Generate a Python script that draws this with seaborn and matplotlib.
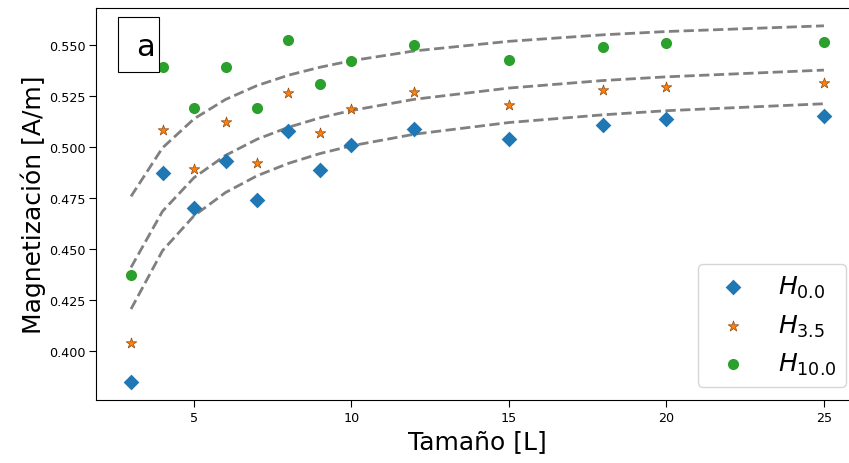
import matplotlib
matplotlib.use("Agg")
import matplotlib.pyplot as plt
from matplotlib.patches import Rectangle
import seaborn as sns

# ---- data ----
sizes_L = [3, 4, 5, 6, 7, 8, 9, 10, 12, 15, 18, 20, 25]

m_h00 = [0.3849, 0.4875, 0.4701, 0.4933, 0.4741, 0.5078, 0.4888, 0.5010,
         0.5086, 0.5039, 0.5109, 0.5135, 0.5150]
m_h35 = [0.4039, 0.5083, 0.4891, 0.5121, 0.4920, 0.5263, 0.5067, 0.5188,
         0.5268, 0.5206, 0.5279, 0.5295, 0.5314]
m_h100 = [0.4374, 0.5390, 0.5190, 0.5390, 0.5190, 0.5523, 0.5307, 0.5422,
          0.5500, 0.5425, 0.5489, 0.5508, 0.5513]

fit_h00 = [0.4206, 0.4492, 0.4663, 0.4777, 0.4859, 0.4920, 0.4968, 0.5006,
           0.5063, 0.5120, 0.5158, 0.5178, 0.5212]
fit_h35 = [0.4410, 0.4685, 0.4850, 0.4959, 0.5038, 0.5097, 0.5143, 0.5179,
           0.5234, 0.5289, 0.5326, 0.5344, 0.5377]
fit_h100 = [0.4758, 0.4996, 0.5138, 0.5233, 0.5301, 0.5352, 0.5391, 0.5423,
            0.5471, 0.5518, 0.5550, 0.5566, 0.5594]

labels = [r"$H_{0.0}$", r"$H_{3.5}$", r"$H_{10.0}$"]
colors = ["#1f77b4", "#ff7f0e", "#2ca02c"]
markers = ["D", "*", "o"]
x_ticks = [5, 10, 15, 20, 25]
y_ticks = [0.400, 0.425, 0.450, 0.475, 0.500, 0.525, 0.550]
y_tick_labels = ["0.400", "0.425", "0.450", "0.475", "0.500", "0.525", "0.550"]

fig = plt.figure(figsize=(8.49, 4.64), dpi=100)
ax = fig.add_axes([0.1135, 0.1364, 0.8978, 0.8442])

for fit in (fit_h00, fit_h35, fit_h100):
    sns.lineplot(x=sizes_L, y=fit, ax=ax, color="gray", linestyle="--",
                 linewidth=2, zorder=1)

series = [m_h00, m_h35, m_h100]
for vals, lab, col, mk in zip(series, labels, colors, markers):
    if mk == "*":
        ec, lw = "#8a4a10", 0.5
    else:
        ec, lw = col, 0.0
    sns.scatterplot(x=sizes_L, y=vals, ax=ax, marker=mk, s=64, color=col,
                    edgecolor=ec, linewidth=lw, label=lab, zorder=3)

ax.set_xlabel("Tamaño [L]", fontsize=18)
ax.set_ylabel("Magnetización [A/m]", fontsize=18, labelpad=2)
ax.set_xticks(x_ticks)
ax.set_yticks(y_ticks)
ax.set_yticklabels(y_tick_labels)
ax.tick_params(labelsize=9.2, length=5, pad=2.8)

ax.legend(loc="lower right", fontsize=18)

ax.add_patch(Rectangle((0.0281, 0.8366), 0.0547, 0.1404, transform=ax.transAxes,
                       facecolor="white", edgecolor="black", linewidth=0.8,
                       zorder=4))
ax.text(0.0648, 0.8808, "a", transform=ax.transAxes, fontsize=22,
        ha="center", va="baseline", zorder=5)

fig.savefig("out.png", dpi=100)
